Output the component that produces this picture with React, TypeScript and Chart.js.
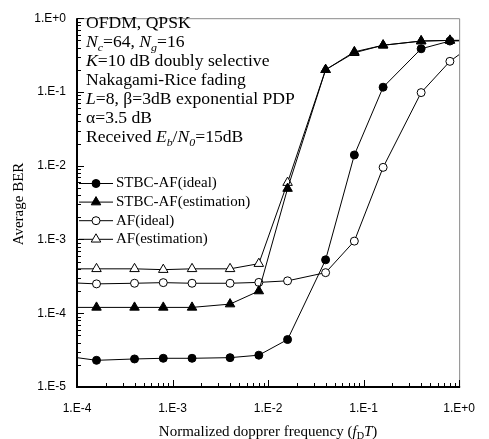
import React, { useEffect, useRef } from "react";
import { Chart, registerables } from "chart.js";

Chart.register(...registerables);

// ---- data ----
const dopplerFreq = [8e-5, 1.6e-4, 4e-4, 8e-4, 1.6e-3, 4e-3, 8e-3, 1.6e-2, 4e-2, 8e-2, 0.16, 0.4, 0.8, 1.6];
const stbcIdeal = [2.6e-5, 2.3e-5, 2.4e-5, 2.45e-5, 2.45e-5, 2.5e-5, 2.7e-5, 4.4e-5, 5.3e-4, 1.4e-2, 0.116, 0.385, 0.49, 0.5];
const stbcEst = [1.2e-4, 1.2e-4, 1.2e-4, 1.2e-4, 1.2e-4, 1.33e-4, 2.0e-4, 4.9e-3, 0.2, 0.35, 0.43, 0.49, 0.5, 0.5];
const afIdeal = [2.6e-4, 2.5e-4, 2.55e-4, 2.6e-4, 2.55e-4, 2.55e-4, 2.62e-4, 2.75e-4, 3.55e-4, 9.5e-4, 9.5e-3, 0.098, 0.26, 0.5];
const afEst = [4.0e-4, 4.0e-4, 4.0e-4, 3.9e-4, 4.0e-4, 4.0e-4, 4.7e-4, 5.9e-3, 0.2, 0.34, 0.43, 0.49, 0.5, 0.5];

const seriesLabels = ["STBC-AF(ideal)", "STBC-AF(estimation)", "AF(ideal)", "AF(estimation)"];
const seriesValues = [stbcIdeal, stbcEst, afIdeal, afEst];
const seriesShapes = ["circle", "triangle", "circle", "triangle"];
const seriesFilled = [true, true, false, false];

type Seg = { t: string; i?: boolean; s?: boolean };
const annotationLines: Seg[][] = [
  [{ t: "OFDM, QPSK" }],
  [{ t: "N", i: true }, { t: "c", i: true, s: true }, { t: "=64, " }, { t: "N", i: true }, { t: "g", i: true, s: true }, { t: "=16" }],
  [{ t: "K", i: true }, { t: "=10 dB doubly selective" }],
  [{ t: "Nakagami-Rice fading" }],
  [{ t: "L", i: true }, { t: "=8, β=3dB exponential PDP" }],
  [{ t: "α=3.5 dB" }],
  [{ t: "Received " }, { t: "E", i: true }, { t: "b", i: true, s: true }, { t: "/" }, { t: "N", i: true }, { t: "0", i: true, s: true }, { t: "=15dB" }],
];
const xTitle: Seg[] = [
  { t: "Normalized dopprer frequency (" },
  { t: "f", i: true },
  { t: "D", s: true },
  { t: "T", i: true },
  { t: ")" },
];
const yTitle = "Average BER";

const SERIF = '"Liberation Serif", "Times New Roman", serif';

function richWidth(ctx: CanvasRenderingContext2D, segs: Seg[], size: number) {
  let w = 0;
  for (const seg of segs) {
    const fs = seg.s ? size * 0.68 : size;
    ctx.font = `${seg.i ? "italic " : ""}${fs}px ${SERIF}`;
    w += ctx.measureText(seg.t).width;
  }
  return w;
}

function drawRich(ctx: CanvasRenderingContext2D, segs: Seg[], x: number, y: number, size: number, stretch: number) {
  ctx.save();
  ctx.translate(x, y);
  ctx.scale(stretch, 1);
  ctx.textBaseline = "alphabetic";
  ctx.textAlign = "left";
  ctx.fillStyle = "#000";
  let cx = 0;
  for (const seg of segs) {
    const fs = seg.s ? size * 0.68 : size;
    ctx.font = `${seg.i ? "italic " : ""}${fs}px ${SERIF}`;
    ctx.fillText(seg.t, cx, seg.s ? size * 0.22 : 0);
    cx += ctx.measureText(seg.t).width;
  }
  ctx.restore();
}

function drawMarker(ctx: CanvasRenderingContext2D, shape: string, filled: boolean, x: number, y: number) {
  ctx.save();
  ctx.beginPath();
  if (shape === "circle") {
    ctx.arc(x, y, 4, 0, Math.PI * 2);
  } else {
    const r = 5.5;
    ctx.moveTo(x, y - r);
    ctx.lineTo(x + Math.sin((2 * Math.PI) / 3) * r, y + 0.5 * r);
    ctx.lineTo(x - Math.sin((2 * Math.PI) / 3) * r, y + 0.5 * r);
    ctx.closePath();
  }
  ctx.fillStyle = filled ? "#000" : "#fff";
  ctx.fill();
  ctx.lineWidth = 1;
  ctx.strokeStyle = "#000";
  ctx.stroke();
  ctx.restore();
}

const decimalLabel = (v: number) => {
  const e = Math.log10(v);
  if (Math.abs(e - Math.round(e)) > 1e-6) return "";
  const n = Math.round(e);
  return "1.E" + (n >= 0 ? "+" : "-") + Math.abs(n);
};

const framePlugin = {
  id: "frame",
  afterDatasetsDraw(chart: any) {
    const ctx: CanvasRenderingContext2D = chart.ctx;
    const { left, right, top, bottom } = chart.chartArea;
    const xs = chart.scales.x;
    const ys = chart.scales.y;
    ctx.save();
    // top & right thin gray
    ctx.strokeStyle = "#8a8a8a";
    ctx.lineWidth = 1;
    ctx.beginPath();
    ctx.moveTo(left, top + 0.5);
    ctx.lineTo(right + 0.5, top + 0.5);
    ctx.lineTo(right + 0.5, bottom);
    ctx.stroke();
    // ticks inside
    ctx.strokeStyle = "#000";
    ctx.lineWidth = 1;
    ctx.beginPath();
    for (let e = -5; e <= 0; e++) {
      for (let m = 1; m <= 9; m++) {
        const v = m * Math.pow(10, e);
        if (v > 1.0000001) continue;
        const len = m === 1 ? 6 : 3;
        if (v >= 1e-5) {
          const py = Math.round(ys.getPixelForValue(v)) + 0.5;
          ctx.moveTo(left, py);
          ctx.lineTo(left + 1 + len, py);
        }
        if (v >= 1e-4) {
          const px = Math.round(xs.getPixelForValue(v)) + 0.5;
          ctx.moveTo(px, bottom);
          ctx.lineTo(px, bottom - 1 - len);
        }
      }
    }
    ctx.stroke();
    // left & bottom thick black
    ctx.lineWidth = 2;
    ctx.beginPath();
    ctx.moveTo(left, top);
    ctx.lineTo(left, bottom);
    ctx.lineTo(right + 1, bottom);
    ctx.stroke();
    ctx.restore();
  },
  afterDraw(chart: any) {
    const ctx: CanvasRenderingContext2D = chart.ctx;
    const { left, right, bottom } = chart.chartArea;
    // annotation text
    annotationLines.forEach((segs, i) => {
      drawRich(ctx, segs, 86, 28 + i * 19, 16, 1.1);
    });
    // legend
    seriesLabels.forEach((lab, i) => {
      const y = 183.5 + i * 18.6;
      ctx.save();
      ctx.strokeStyle = "#000";
      ctx.lineWidth = 1;
      ctx.beginPath();
      ctx.moveTo(79, y);
      ctx.lineTo(113, y);
      ctx.stroke();
      ctx.restore();
      drawMarker(ctx, seriesShapes[i], seriesFilled[i], 96, y);
      ctx.save();
      ctx.fillStyle = "#000";
      ctx.font = `15px ${SERIF}`;
      ctx.textBaseline = "middle";
      ctx.textAlign = "left";
      ctx.fillText(lab, 116, y);
      ctx.restore();
    });
    // x title
    const w = richWidth(ctx, xTitle, 15);
    drawRich(ctx, xTitle, (left + right) / 2 - w / 2, bottom + 49, 15, 1);
    // y title
    ctx.save();
    ctx.translate(19, 204);
    ctx.rotate(-Math.PI / 2);
    ctx.font = `15px ${SERIF}`;
    ctx.fillStyle = "#000";
    ctx.textAlign = "center";
    ctx.textBaseline = "middle";
    ctx.fillText(yTitle, 0, 0);
    ctx.restore();
  },
};

export default function App() {
  const ref = useRef<HTMLCanvasElement>(null);
  useEffect(() => {
    document.body.style.margin = "0";
    document.body.style.overflow = "hidden";
    const canvas = ref.current!;
    const datasets = seriesLabels.map((label, i) => ({
      label,
      data: dopplerFreq.map((x, j) => ({ x, y: seriesValues[i][j] })),
      borderColor: "#000",
      borderWidth: 1,
      pointStyle: seriesShapes[i] as any,
      pointRadius: seriesShapes[i] === "circle" ? 4 : 5.5,
      pointBackgroundColor: seriesFilled[i] ? "#000" : "#fff",
      pointBorderColor: "#000",
      pointBorderWidth: 1,
      tension: 0,
      fill: false,
    }));
    const chart = new Chart(canvas, {
      type: "line",
      data: { datasets },
      options: {
        responsive: false,
        animation: false,
        events: [],
        layout: { padding: { top: 13, right: 22, left: 0, bottom: 0 } },
        plugins: { legend: { display: false }, tooltip: { enabled: false }, title: { display: false } },
        scales: {
          x: {
            type: "logarithmic",
            min: 1e-4,
            max: 1,
            grid: { display: false, drawTicks: false },
            border: { display: false },
            ticks: {
              autoSkip: false,
              maxRotation: 0,
              minRotation: 0,
              padding: 14,
              color: "#000",
              font: { family: '"Liberation Sans", Arial, sans-serif', size: 12 },
              callback: (v: any) => decimalLabel(Number(v)),
            },
            afterFit: (s: any) => {
              s.height = 52;
            },
          },
          y: {
            type: "logarithmic",
            min: 1e-5,
            max: 1,
            grid: { display: false, drawTicks: false },
            border: { display: false },
            ticks: {
              autoSkip: false,
              padding: 11,
              color: "#000",
              font: { family: '"Liberation Sans", Arial, sans-serif', size: 12 },
              callback: (v: any) => decimalLabel(Number(v)),
            },
            afterFit: (s: any) => {
              s.width = 77;
            },
          },
        },
      } as any,
      plugins: [framePlugin],
    });
    return () => chart.destroy();
  }, []);
  return <canvas ref={ref} width={489} height={439} style={{ display: "block" }} />;
}
